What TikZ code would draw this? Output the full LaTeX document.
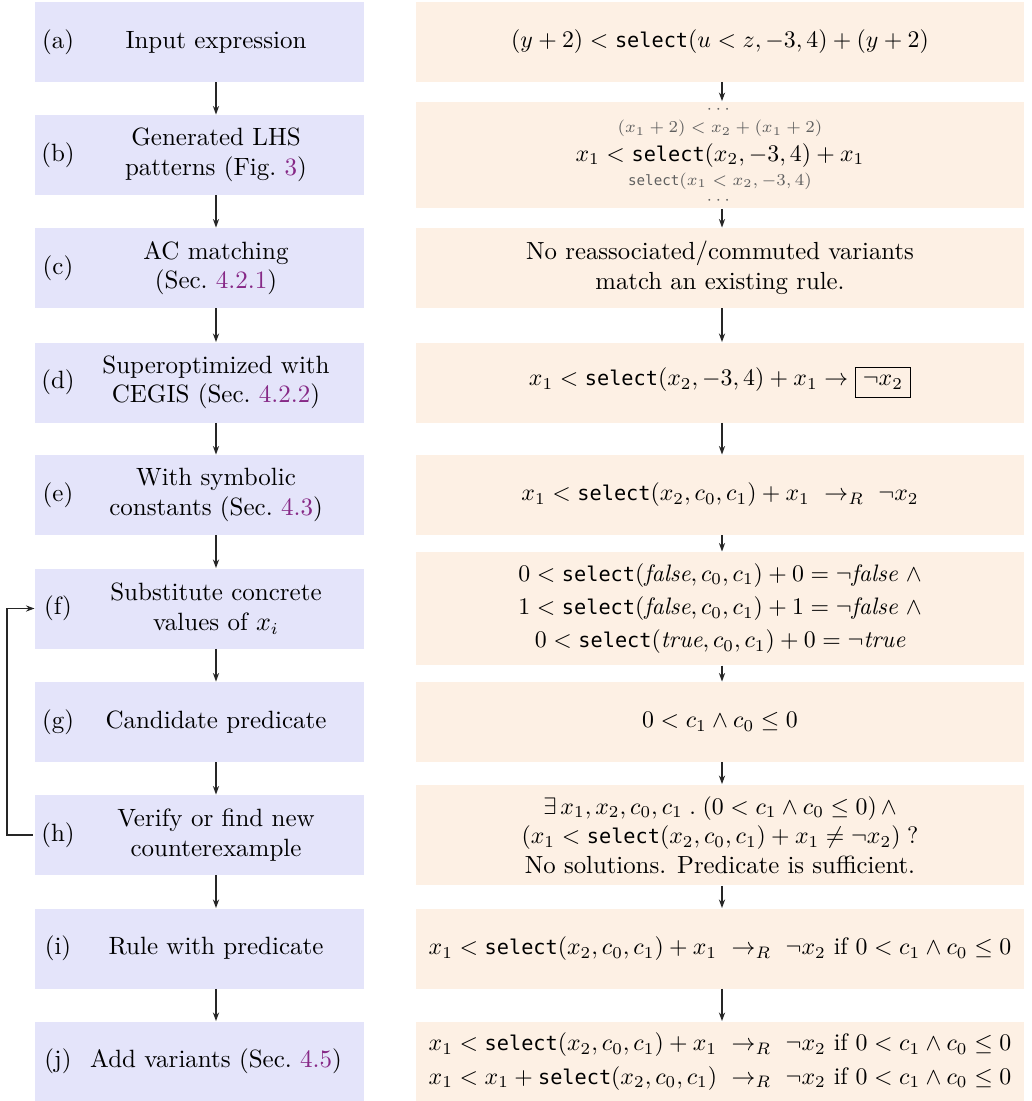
\documentclass[tikz,border=0pt]{standalone}
\usepackage{amsmath}
\usepackage{fontspec}
\setmonofont{DejaVu Sans Mono}[Scale=0.85]
\usetikzlibrary{arrows.meta}
\definecolor{lfill}{RGB}{228,228,250}
\definecolor{rfill}{RGB}{253,240,228}
\definecolor{linkc}{RGB}{134,40,134}
\definecolor{faint}{RGB}{95,95,95}
\newcommand{\sel}{\texttt{select}}
\newcommand{\lnk}[1]{\textcolor{linkc}{#1}}
\newcommand{\gsmall}[1]{{\scriptsize\color{faint}#1}}
\begin{document}
\begin{tikzpicture}[x=0.42pt,y=-0.42pt,
  lbox/.style={fill=lfill, draw=none, minimum width=138.2pt, minimum height=33.6pt, inner sep=0pt},
  rbox/.style={fill=rfill, draw=none, minimum width=255.4pt, minimum height=33.6pt, inner sep=0pt, align=center},
  ltext/.style={align=center, inner sep=0pt, font=\fontsize{10.5pt}{12.4pt}\selectfont},
  lab/.style={inner sep=0pt, font=\fontsize{10.5pt}{12.4pt}\selectfont},
  arr/.style={-{Stealth[length=3.6pt,width=2.6pt]}, line width=0.45pt, black!85}
]
\useasboundingbox (0,0) rectangle (1031,1101);

% left column boxes
\node[lbox] (la) at (199.5,42) {};
\node[lbox] (lb) at (199.5,155) {};
\node[lbox] (lc) at (199.5,268) {};
\node[lbox] (ld) at (199.5,382.5) {};
\node[lbox] (le) at (199.5,495) {};
\node[lbox] (lf) at (199.5,608.5) {};
\node[lbox] (lg) at (199.5,722) {};
\node[lbox] (lh) at (199.5,835) {};
\node[lbox] (li) at (199.5,948.5) {};
\node[lbox] (lj) at (199.5,1061.5) {};

% labels
\node[lab] (pa) at (58,42) {(a)};
\node[lab] (pb) at (58,155) {(b)};
\node[lab] (pc) at (58,268) {(c)};
\node[lab] (pd) at (58,382.5) {(d)};
\node[lab] (pe) at (58,495) {(e)};
\node[lab] (pf) at (58,608.5) {(f)};
\node[lab] (pg) at (58,722) {(g)};
\node[lab] (ph) at (58,835) {(h)};
\node[lab] (pi) at (58,948.5) {(i)};
\node[lab] (pj) at (58,1061.5) {(j)};

% left texts
\node[ltext] (ta) at (216,42) {Input expression};
\node[ltext] (tb) at (216,155) {Generated LHS\\patterns (Fig.~\lnk{3})};
\node[ltext] (tc) at (216,268) {AC matching\\(Sec.~\lnk{4.2.1})};
\node[ltext] (td) at (216,382.5) {Superoptimized with\\CEGIS (Sec.~\lnk{4.2.2})};
\node[ltext] (te) at (216,495) {With symbolic\\constants (Sec.~\lnk{4.3})};
\node[ltext] (tf) at (216,608.5) {Substitute concrete\\values of $x_i$};
\node[ltext] (tg) at (216,722) {Candidate predicate};
\node[ltext] (th) at (216,835) {Verify or find new\\counterexample};
\node[ltext] (ti) at (216,948.5) {Rule with predicate};
\node[ltext] (tj) at (216,1061.5) {Add variants (Sec.~\lnk{4.5})};

% right column boxes
\node[rbox] (ra) at (720,42) {$(y+2) < \sel(u<z,-3,4) + (y+2)$};
\node[rbox, minimum height=44.9pt] (rb) at (720,155) {%
  \gsmall{$\cdots$}\\[-4pt]
  \gsmall{$(x_1+2) < x_2 + (x_1+2)$}\\[0pt]
  $x_1 < \sel(x_2,-3,4) + x_1$\\[-2pt]
  \gsmall{$\sel(x_1<x_2,-3,4)$}\\[-4pt]
  \gsmall{$\cdots$}};
\node[rbox, font=\fontsize{10.4pt}{12.4pt}\selectfont] (rc) at (720,268) {No reassociated/commuted variants\\match an existing rule.};
\node[rbox] (rd) at (720,382.5) {$x_1 < \sel(x_2,-3,4) + x_1 \to \fbox{$\neg x_2$}$};
\node[rbox] (re) at (720,495) {$x_1 < \sel(x_2,c_0,c_1) + x_1 \ \to_R\ \neg x_2$};
\node[rbox, minimum height=47.5pt] (rf) at (720,608.5) {%
  $0 < \sel(\textit{false},c_0,c_1) + 0 = \neg\textit{false}\ \land$\\[2pt]
  $1 < \sel(\textit{false},c_0,c_1) + 1 = \neg\textit{false}\ \land$\\[2pt]
  $0 < \sel(\textit{true},c_0,c_1) + 0 = \neg\textit{true}$};
\node[rbox] (rg) at (720,722) {$0 < c_1 \land c_0 \le 0$};
\node[rbox, minimum height=42.4pt] (rh) at (720,835) {%
  $\exists\, x_1,x_2,c_0,c_1 \;.\; (0 < c_1 \land c_0 \le 0) \,\land$\\[0.5pt]
  $(x_1 < \sel(x_2,c_0,c_1) + x_1 \ne \neg x_2)\;?$\\[0.5pt]
  {\fontsize{10.4pt}{12.4pt}\selectfont No solutions. Predicate is sufficient.}};
\node[rbox] (ri) at (720,948.5) {$x_1 < \sel(x_2,c_0,c_1) + x_1 \ \to_R\ \neg x_2 \text{ if } 0 < c_1 \land c_0 \le 0$};
\node[rbox] (rj) at (720,1061.5) {%
  $x_1 < \sel(x_2,c_0,c_1) + x_1 \ \to_R\ \neg x_2 \text{ if } 0 < c_1 \land c_0 \le 0$\\[2pt]
  $x_1 < x_1 + \sel(x_2,c_0,c_1) \ \to_R\ \neg x_2 \text{ if } 0 < c_1 \land c_0 \le 0$};

% left arrows
\draw[arr] (la.south -| ta) -- (lb.north -| ta);
\draw[arr] (lb.south -| ta) -- (lc.north -| ta);
\draw[arr] (lc.south -| ta) -- (ld.north -| ta);
\draw[arr] (ld.south -| ta) -- (le.north -| ta);
\draw[arr] (le.south -| ta) -- (lf.north -| ta);
\draw[arr] (lf.south -| ta) -- (lg.north -| ta);
\draw[arr] (lg.south -| ta) -- (lh.north -| ta);
\draw[arr] (lh.south -| ta) -- (li.north -| ta);
\draw[arr] (li.south -| ta) -- (lj.north -| ta);

% right arrows
\coordinate (rx) at (722,0);
\draw[arr] (ra.south -| rx) -- (rb.north -| rx);
\draw[arr] (rb.south -| rx) -- (rc.north -| rx);
\draw[arr] (rc.south -| rx) -- (rd.north -| rx);
\draw[arr] (rd.south -| rx) -- (re.north -| rx);
\draw[arr] (re.south -| rx) -- (rf.north -| rx);
\draw[arr] (rf.south -| rx) -- (rg.north -| rx);
\draw[arr] (rg.south -| rx) -- (rh.north -| rx);
\draw[arr] (rh.south -| rx) -- (ri.north -| rx);
\draw[arr] (ri.south -| rx) -- (rj.north -| rx);

% feedback loop
\coordinate (fb) at (7,0);
\draw[arr] ([xshift=-0.8pt]lh.west) -- (lh.west -| fb) -- (lf.west -| fb) -- (lf.west);
\end{tikzpicture}
\end{document}
